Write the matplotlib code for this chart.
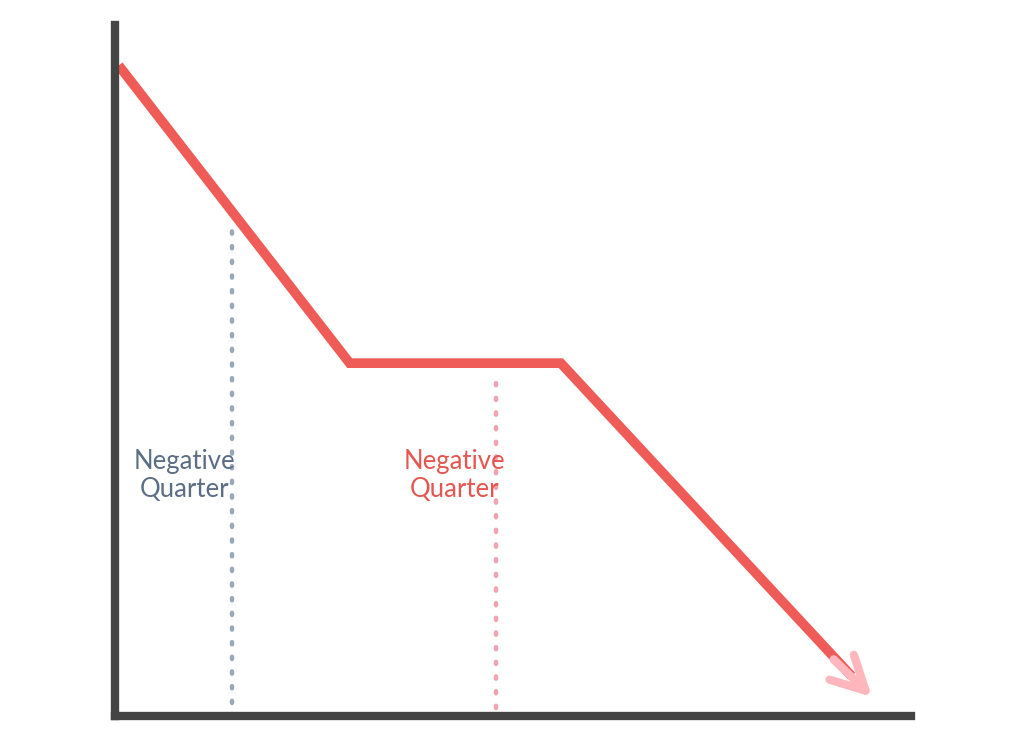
import matplotlib
matplotlib.use("Agg")
import matplotlib.pyplot as plt

# trend line (quarter index, value)
trend_x = [0.05, 2.95, 5.6, 9.45]
trend_y = [94.2, 51.1, 51.1, 3.3]

# dotted quarter markers
marker1_x = 1.47
marker1_y = [1.9, 71.8]
marker2_x = 4.79
marker2_y = [1.2, 48.6]

label1 = "Negative\nQuarter"
label2 = "Negative\nQuarter"

fig = plt.figure(figsize=(10.24, 7.46), dpi=100)
ax = fig.add_axes([0.112, 0.040, 0.778, 0.926])
ax.set_xlim(0, 10)
ax.set_ylim(0, 100)

ax.plot([marker1_x, marker1_x], marker1_y, color="#9aa8b8", linestyle=(0, (0.5, 2.8)),
        linewidth=3.2, dash_capstyle="round")
ax.plot([marker2_x, marker2_x], marker2_y, color="#f2a3ad", linestyle=(0, (0.5, 2.8)),
        linewidth=3.2, dash_capstyle="round")

ax.plot(trend_x[:-1] + [trend_x[-1] - 0.2], trend_y[:-1] + [trend_y[-1] + 2.5],
        color="#ef5b56", linewidth=7, solid_joinstyle="miter", solid_capstyle="butt")
ax.annotate("", xy=(trend_x[-1] + 0.08, trend_y[-1] - 0.8),
            xytext=(trend_x[-1] - 0.45, trend_y[-1] + 5.2),
            arrowprops=dict(arrowstyle="->, head_length=2.4, head_width=1.25",
                            color="#ffb6bc", linewidth=6))

ax.text(0.88, 34.9, label1, ha="center", va="center", fontsize=18.5,
        color="#5b6e85", family="Lato", linespacing=1.15)
ax.text(4.26, 34.9, label2, ha="center", va="center", fontsize=18.5,
        color="#e55650", family="Lato", linespacing=1.15)

for s in ["top", "right"]:
    ax.spines[s].set_visible(False)
for s in ["left", "bottom"]:
    ax.spines[s].set_color("#444444")
    ax.spines[s].set_linewidth(6)
ax.set_xticks([])
ax.set_yticks([])

fig.savefig("out.png", dpi=100)
